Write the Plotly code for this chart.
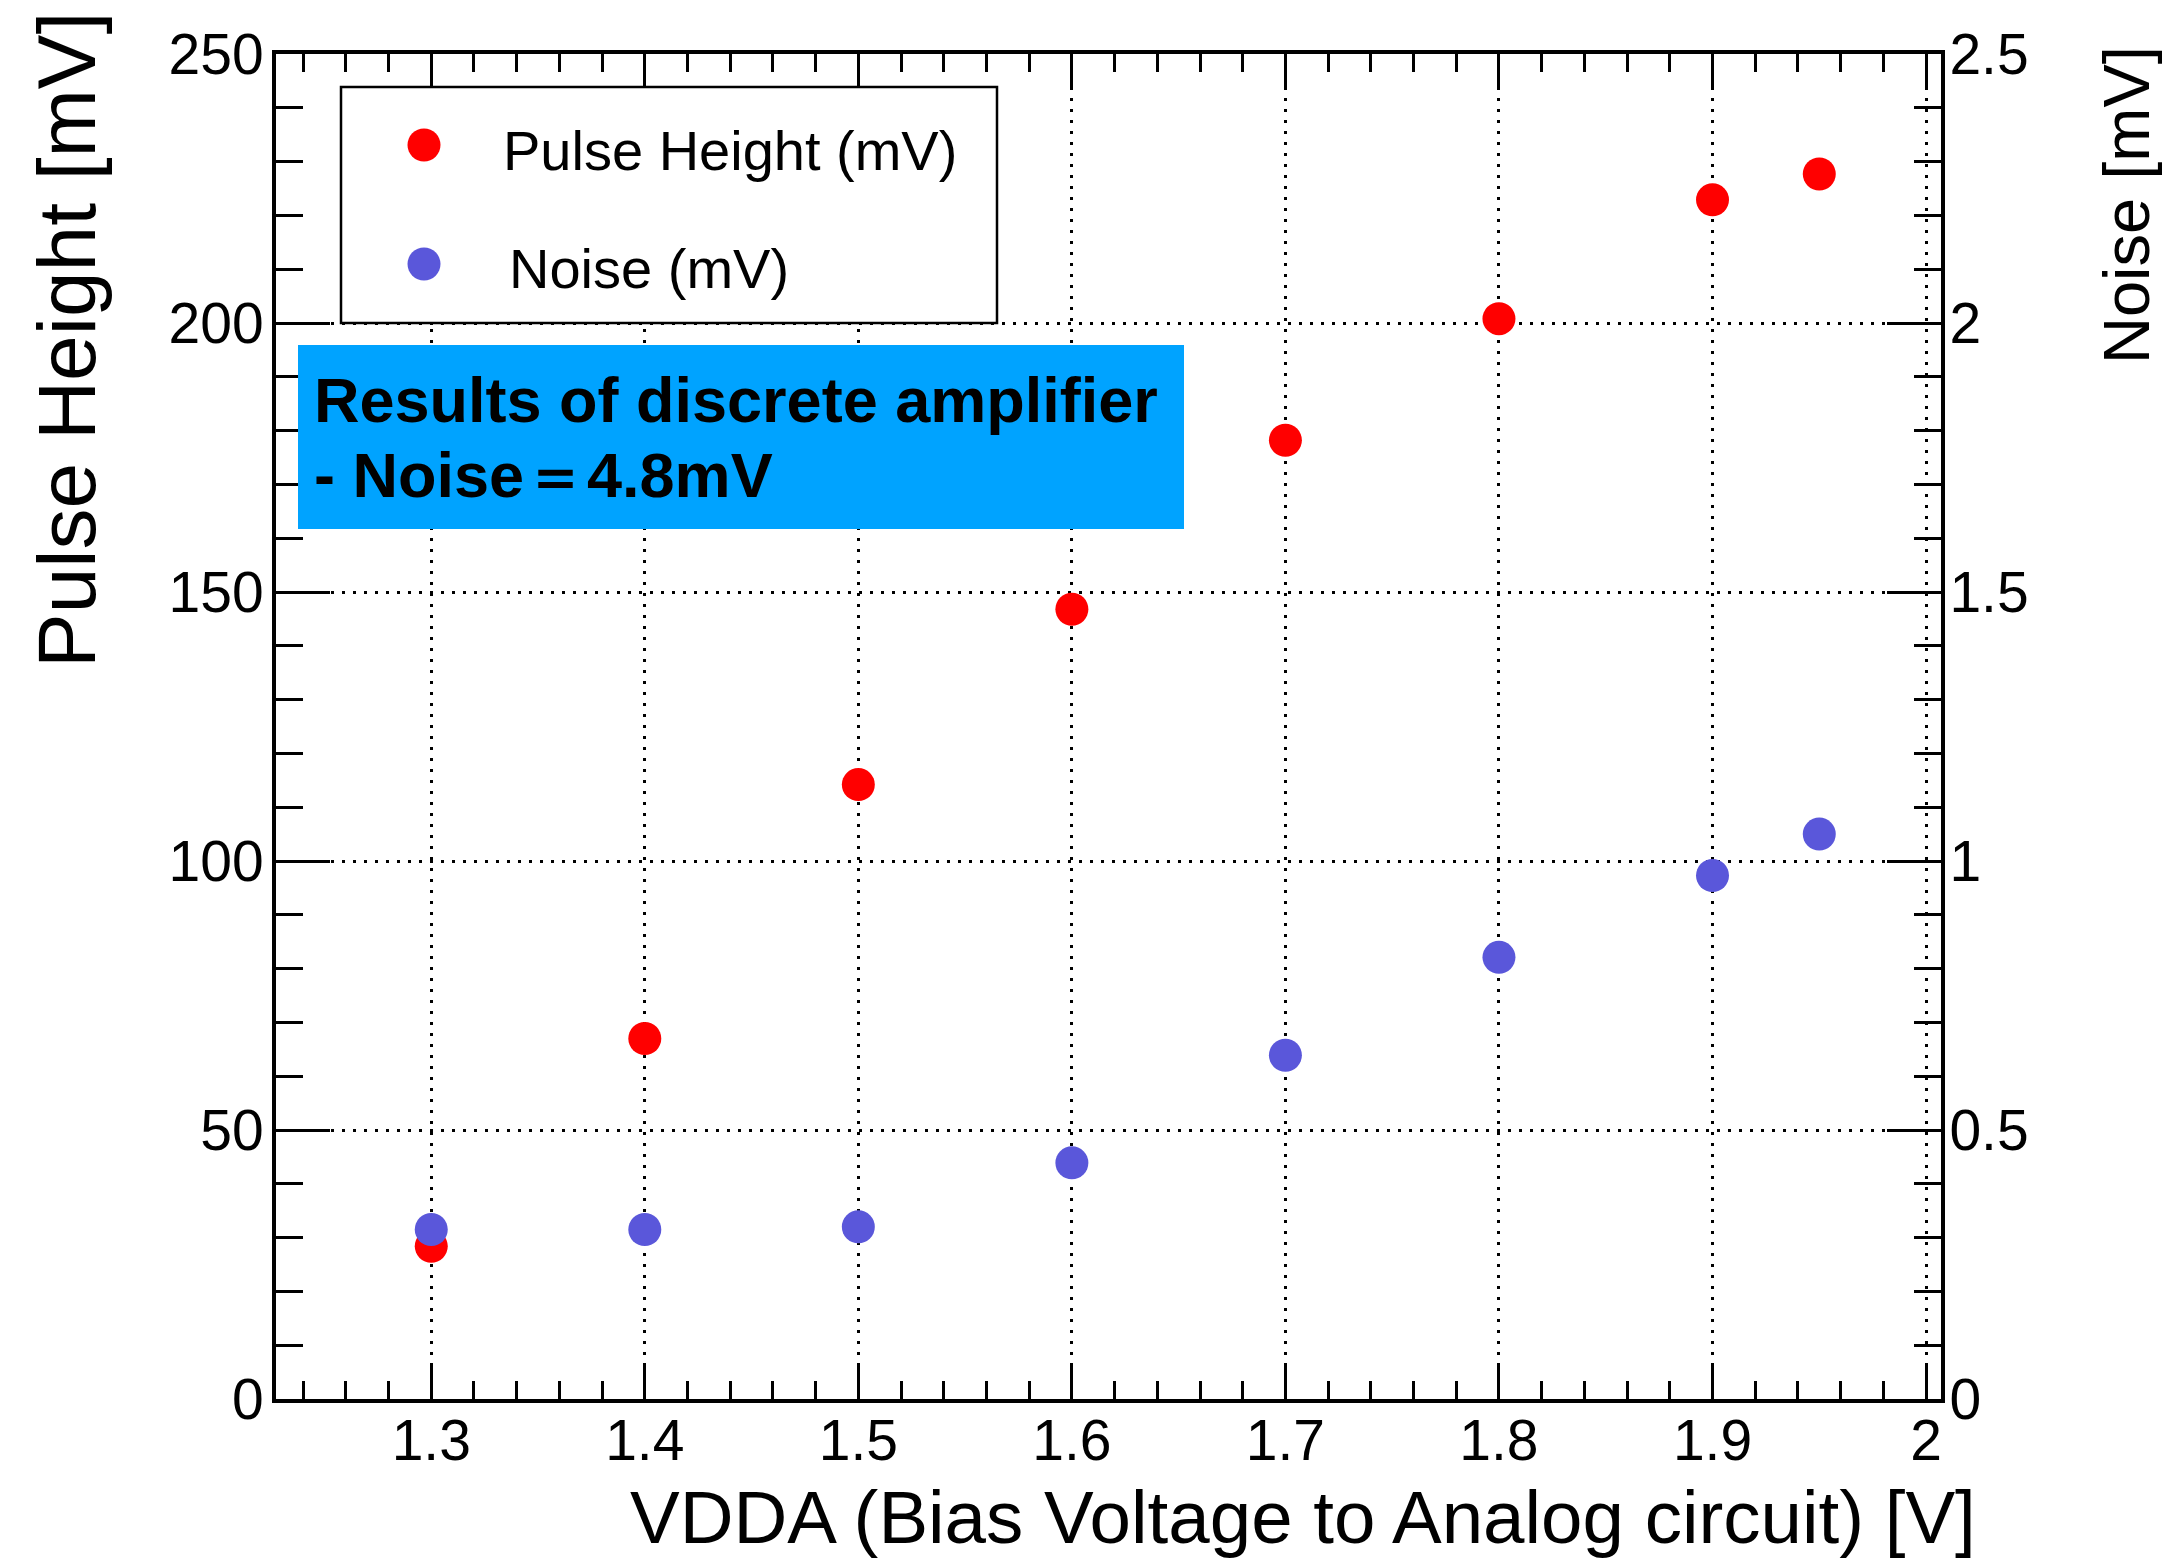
import plotly.graph_objects as go

# ---- data ----
vdda = [1.3, 1.4, 1.5, 1.6, 1.7, 1.8, 1.9, 1.95]
pulse_height = [28.4, 67.0, 114.2, 146.8, 178.2, 200.8, 222.9, 227.7]
noise = [0.315, 0.315, 0.320, 0.439, 0.639, 0.821, 0.973, 1.050]

x_title = "VDDA (Bias Voltage to Analog circuit) [V]"
y_title = "Pulse Height [mV]"
y2_title = "Noise [mV]"
legend_labels = ["Pulse Height (mV)", "Noise (mV)"]
box_lines = ["Results of discrete amplifier", "- Noise＝4.8mV"]

RED = "#ff0000"
BLUE = "#5a57da"
BOXBLUE = "#00a3ff"
FONT = "Liberation Sans, Arial, Helvetica, sans-serif"

W, H = 2166, 1561
L, R, T, B = 276, 225, 54, 162
PW, PH = W - L - R, H - T - B


def px(xpix):
    return (xpix - L) / PW


def py(ypix):
    return (H - B - ypix) / PH


fig = go.Figure()
fig.add_trace(go.Scatter(x=vdda, y=pulse_height, mode="markers", name=legend_labels[0],
                         marker=dict(color=RED, size=33, line=dict(width=0)),
                         yaxis="y", showlegend=False))
fig.add_trace(go.Scatter(x=vdda, y=noise, mode="markers", name=legend_labels[1],
                         marker=dict(color=BLUE, size=33, line=dict(width=0)),
                         yaxis="y2", showlegend=False))

grid = dict(showgrid=True, gridcolor="black", gridwidth=3, griddash="3px,8px")

fig.update_layout(
    width=W, height=H,
    margin=dict(l=L, r=R, t=T, b=B, pad=0),
    paper_bgcolor="white", plot_bgcolor="white",
    font=dict(family=FONT, color="black"),
    xaxis=dict(range=[1.2273, 2.007], dtick=0.1, tick0=0,
               ticks="inside", ticklen=36, tickwidth=3, tickcolor="black",
               minor=dict(dtick=0.02, ticks="inside", ticklen=18, tickwidth=3,
                          tickcolor="black", showgrid=False),
               showline=True, linewidth=4, linecolor="black", mirror="ticks",
               zeroline=False, tickfont=dict(size=57, family=FONT),
               ticklabelstandoff=-11, **grid),
    yaxis=dict(range=[0, 250], dtick=50, tick0=0,
               ticks="inside", ticklen=54, tickwidth=3, tickcolor="black",
               minor=dict(dtick=10, ticks="inside", ticklen=27, tickwidth=3,
                          tickcolor="black", showgrid=False),
               showline=True, linewidth=4, linecolor="black", mirror=False,
               zeroline=False, tickfont=dict(size=57, family=FONT),
               ticklabelstandoff=-3, **grid),
    yaxis2=dict(range=[0, 2.5], dtick=0.5, tick0=0, overlaying="y", side="right",
                ticks="inside", ticklen=54, tickwidth=3, tickcolor="black",
                minor=dict(dtick=0.1, ticks="inside", ticklen=27, tickwidth=3,
                           tickcolor="black", showgrid=False),
                showline=True, linewidth=4, linecolor="black",
                showgrid=False, zeroline=False,
                tickfont=dict(size=57, family=FONT), ticklabelstandoff=-7),
)

shapes = []
# legend frame
shapes.append(dict(type="rect", xref="paper", yref="paper",
                   x0=px(341), x1=px(997), y0=py(323), y1=py(87),
                   fillcolor="white", line=dict(color="black", width=2.5), layer="above"))
# legend symbols
for ypix, col in [(145, RED), (264, BLUE)]:
    shapes.append(dict(type="circle", xref="paper", yref="paper",
                       xsizemode="pixel", ysizemode="pixel",
                       xanchor=px(424), yanchor=py(ypix),
                       x0=-16.5, x1=16.5, y0=-16.5, y1=16.5,
                       fillcolor=col, line=dict(width=0), layer="above"))
# blue text box
shapes.append(dict(type="rect", xref="paper", yref="paper",
                   x0=px(298), x1=px(1184), y0=py(529), y1=py(345),
                   fillcolor=BOXBLUE, line=dict(width=0), layer="above"))
fig.update_layout(shapes=shapes)

ann = []
ann.append(dict(text=legend_labels[0], xref="paper", yref="paper", x=px(501), y=py(150),
                xanchor="left", yanchor="middle", showarrow=False,
                font=dict(size=56, family=FONT, color="black")))
ann.append(dict(text=legend_labels[1], xref="paper", yref="paper", x=px(507), y=py(269),
                xanchor="left", yanchor="middle", showarrow=False,
                font=dict(size=56, family=FONT, color="black")))
ann.append(dict(text="<b>%s</b>" % box_lines[0], xref="paper", yref="paper", x=px(312), y=py(400),
                xanchor="left", yanchor="middle", showarrow=False,
                font=dict(size=63, family=FONT, color="black")))
ann.append(dict(text="<b>%s</b>" % box_lines[1], xref="paper", yref="paper", x=px(312), y=py(475),
                xanchor="left", yanchor="middle", showarrow=False,
                font=dict(size=63, family=FONT, color="black")))
# axis titles (ROOT style: aligned to the axis end)
ann.append(dict(text=x_title, xref="paper", yref="paper", x=1, y=0, xshift=1978 - (W - R),
                yshift=-(1517 - (H - B)), xanchor="right", yanchor="middle", showarrow=False,
                font=dict(size=74.5, family=FONT, color="black")))
ann.append(dict(text=y_title, xref="paper", yref="paper", x=0, y=1, xshift=66 - L,
                yshift=T - 10, xanchor="center", yanchor="top", textangle=-90, showarrow=False,
                font=dict(size=82, family=FONT, color="black")))
ann.append(dict(text=y2_title, xref="paper", yref="paper", x=1, y=1, xshift=2126 - (W - R),
                yshift=T - 44, xanchor="center", yanchor="top", textangle=-90, showarrow=False,
                font=dict(size=65, family=FONT, color="black")))
fig.update_layout(annotations=ann)

fig.write_html("out.html")
